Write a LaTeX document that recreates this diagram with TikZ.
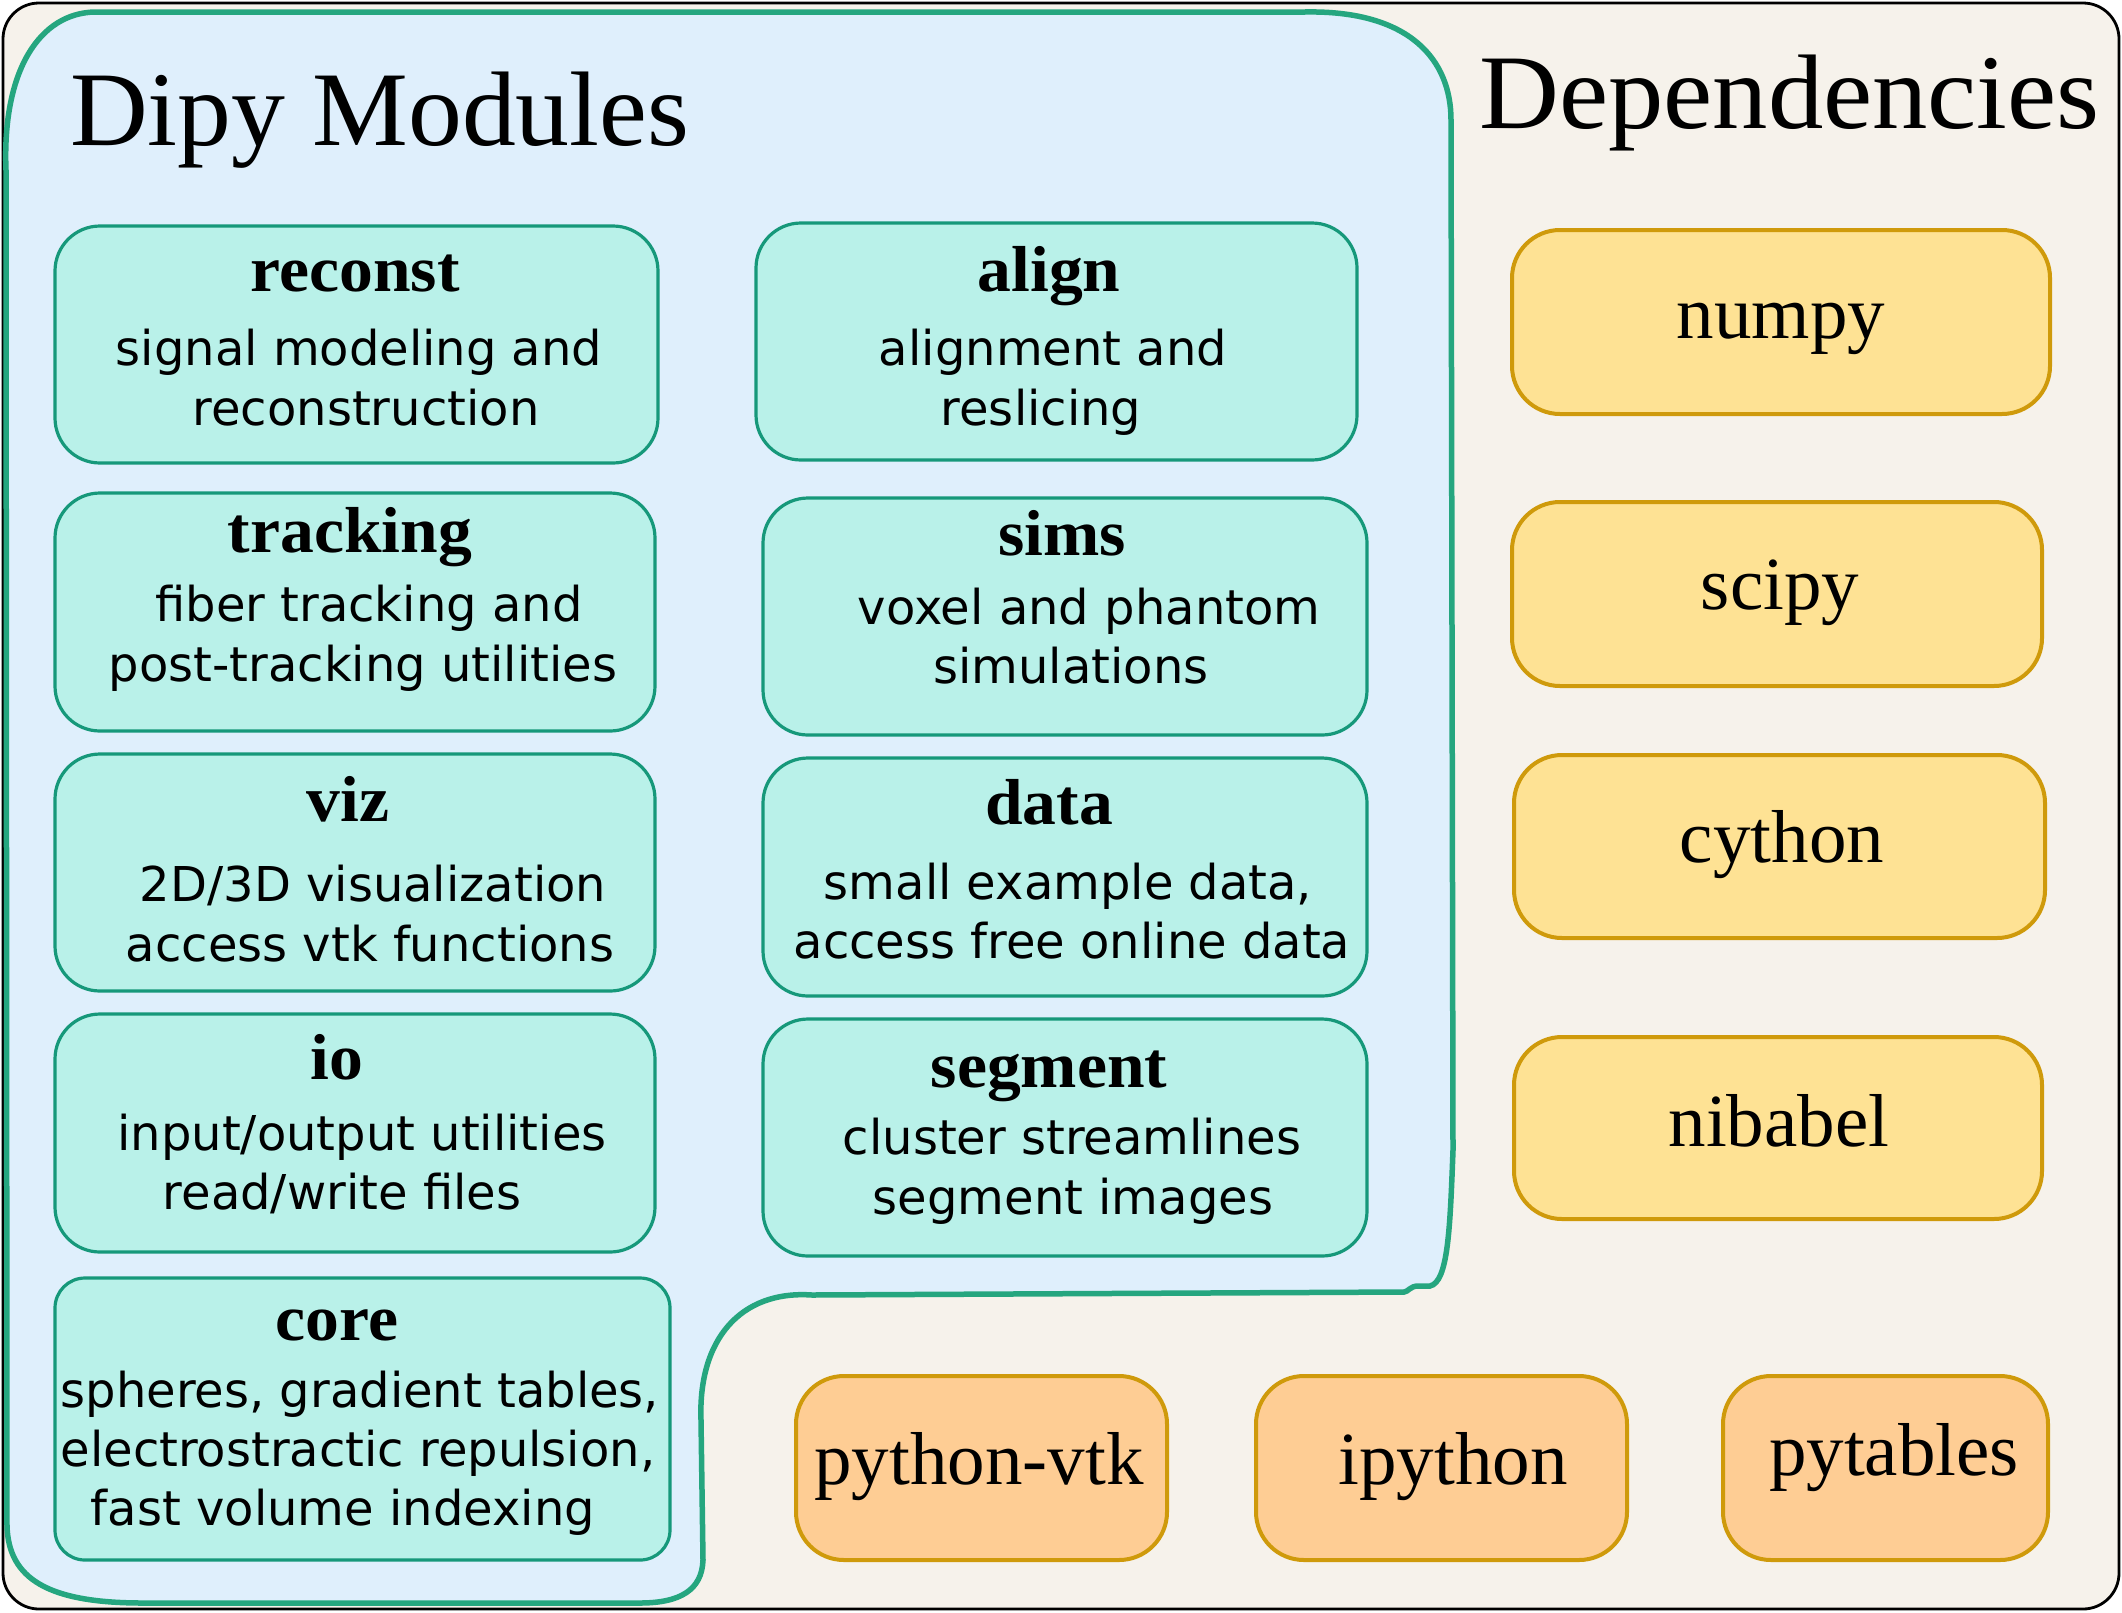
\documentclass[tikz,border=0pt]{standalone}
\usepackage{fontspec}
\newfontfamily\serifh{Liberation Serif}
\newfontfamily\serift[FakeStretch=1.04]{Liberation Serif}
\newfontfamily\sansb{DejaVu Sans}
\definecolor{beige}{HTML}{F6F2EB}
\definecolor{bluefill}{HTML}{DFEFFC}
\definecolor{greenline}{HTML}{25A67F}
\definecolor{tealfill}{HTML}{B9F1E9}
\definecolor{tealline}{HTML}{16987A}
\definecolor{yellowfill}{HTML}{FEE294}
\definecolor{orangefill}{HTML}{FECD94}
\definecolor{goldline}{HTML}{CF9A0B}
\tikzset{
  modbox/.style={draw=tealline, fill=tealfill, line width=3.2pt, rounded corners=45pt, inner sep=0pt},
  depbox/.style={draw=goldline, fill=yellowfill, line width=4pt, rounded corners=48pt, inner sep=0pt},
  optbox/.style={draw=goldline, fill=orangefill, line width=4pt, rounded corners=48pt, inner sep=0pt},
  ttl/.style={anchor=base, inner sep=0pt, font=\serift\bfseries\fontsize{65}{65}\selectfont},
  desc/.style={anchor=base, inner sep=0pt, font=\sansb\fontsize{48}{60}\selectfont},
  deplabel/.style={anchor=base, inner sep=0pt, font=\serifh\fontsize{75}{75}\selectfont},
  heading/.style={anchor=base west, inner sep=0pt, font=\serifh\fontsize{106}{106}\selectfont}
}
\begin{document}
\begin{tikzpicture}[x=1pt, y=-1pt]
\useasboundingbox (0,0) rectangle (2122,1612);
% outer frame
\draw[line width=2.8pt, fill=beige, rounded corners=36pt] (3,3) rectangle (2119,1609);
% blue modules region
\draw[line width=5.5pt, draw=greenline, fill=bluefill]
  (6,170) .. controls (2,70) and (40,13) .. (95,12)
  -- (1305,12)
  .. controls (1410,10) and (1451,60) .. (1451,120)
  -- (1453,1150)
  .. controls (1450,1230) and (1448,1282) .. (1430,1286)
  -- (1418,1286) .. controls (1410,1286) and (1408,1292) .. (1404,1292)
  -- (812,1295)
  .. controls (740,1290) and (698,1340) .. (701,1420)
  -- (703,1560)
  .. controls (702,1590) and (680,1603) .. (640,1603)
  -- (143,1603)
  .. controls (50,1603) and (8,1580) .. (7,1525)
  -- cycle;
% headings
\node[heading] (hmod) at (70,145) {\scalebox{1.016}[1]{Dipy Modules}};
\node[heading] (hdep) at (1479,128) {\scalebox{1.044}[1]{Dependencies}};
% module boxes
\node[modbox, minimum width=603pt, minimum height=237pt] (reconst) at (356.5,344.5) {};
\node[modbox, minimum width=601pt, minimum height=237pt] (align) at (1056.5,341.5) {};
\node[modbox, minimum width=600pt, minimum height=238pt] (tracking) at (355,612) {};
\node[modbox, minimum width=604pt, minimum height=237pt] (sims) at (1065,616.5) {};
\node[modbox, minimum width=600pt, minimum height=237pt] (viz) at (355,872.5) {};
\node[modbox, minimum width=604pt, minimum height=238pt] (data) at (1065,877) {};
\node[modbox, minimum width=600pt, minimum height=238pt] (io) at (355,1133) {};
\node[modbox, minimum width=604pt, minimum height=237pt] (segment) at (1065,1137.5) {};
\node[modbox, rounded corners=30pt, minimum width=615pt, minimum height=282pt] (core) at (362.5,1419) {};
% module texts
\node[ttl] (treconst) at (355,291) {reconst};
\node[desc] (dreconst1) at (359,365) {signal modeling and};
\node[desc] (dreconst2) at (366,425) {reconstruction};
\node[ttl] (talign) at (1049,291) {align};
\node[desc] (dalign1) at (1053,365) {alignment and};
\node[desc] (dalign2) at (1041,425) {reslicing};
\node[ttl] (ttracking) at (350,552) {tracking};
\node[desc] (dtracking1) at (369,621) {fiber tracking and};
\node[desc] (dtracking2) at (363,681) {post-tracking utilities};
\node[ttl] (tsims) at (1062,555) {sims};
\node[desc] (dsims1) at (1089,624) {voxel and phantom};
\node[desc] (dsims2) at (1071,683) {simulations};
\node[ttl] (tviz) at (348,821) {viz};
\node[desc] (dviz1) at (373,901) {2D/3D visualization};
\node[desc] (dviz2) at (370,961) {access vtk functions};
\node[ttl] (tdata) at (1049,824) {data};
\node[desc] (ddata1) at (1068,899) {small example data,};
\node[desc] (ddata2) at (1072,958) {access free online data};
\node[ttl] (tio) at (337,1079) {io};
\node[desc] (dio1) at (362,1150) {input/output utilities};
\node[desc] (dio2) at (342,1209) {read/write files};
\node[ttl] (tsegment) at (1049,1087) {segment};
\node[desc] (dsegment1) at (1072,1154) {cluster streamlines};
\node[desc] (dsegment2) at (1073,1214) {segment images};
\node[ttl] (tcore) at (337,1340) {core};
\node[desc] (dcore1) at (360,1407) {spheres, gradient tables,};
\node[desc] (dcore2) at (358,1466) {electrostractic repulsion,};
\node[desc] (dcore3) at (343,1525) {fast volume indexing};
% dependency boxes
\node[depbox, minimum width=538pt, minimum height=184pt] (numpy) at (1781,322) {};
\node[depbox, minimum width=530pt, minimum height=184pt] (scipy) at (1777,594) {};
\node[depbox, minimum width=531pt, minimum height=183pt] (cython) at (1779.5,846.5) {};
\node[depbox, minimum width=528pt, minimum height=182pt] (nibabel) at (1778,1128) {};
\node[optbox, minimum width=371pt, minimum height=184pt] (pyvtk) at (981.5,1468) {};
\node[optbox, minimum width=371pt, minimum height=184pt] (ipython) at (1441.5,1468) {};
\node[optbox, minimum width=325pt, minimum height=184pt] (pytables) at (1885.5,1468) {};
\node[deplabel] (lnumpy) at (1781,338) {numpy};
\node[deplabel] (lscipy) at (1780,609) {scipy};
\node[deplabel] (lcython) at (1782,862) {cython};
\node[deplabel] (lnibabel) at (1779,1146) {nibabel};
\node[deplabel] (lpyvtk) at (979,1484) {python-vtk};
\node[deplabel] (lipython) at (1453,1484) {ipython};
\node[deplabel] (lpytables) at (1894,1475) {pytables};
\end{tikzpicture}
\end{document}
